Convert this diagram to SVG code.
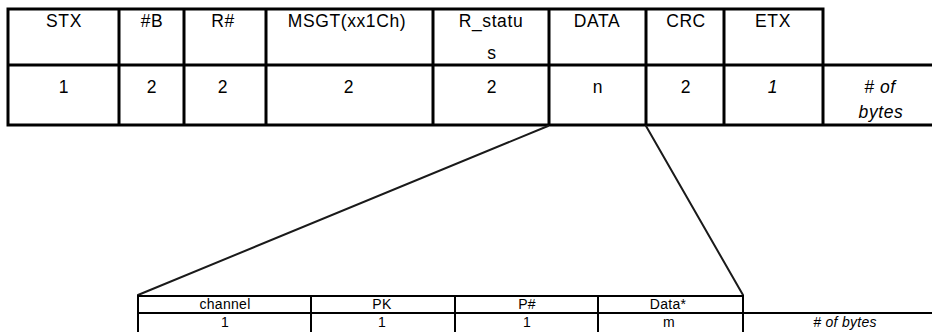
<svg xmlns="http://www.w3.org/2000/svg" width="932" height="332" viewBox="0 0 932 332">
  <style>
    .bg { fill: #ffffff; }
    .thick { stroke: #000000; stroke-width: 3; fill: none; stroke-linecap: square; }
    .thin { stroke: #000000; stroke-width: 2; fill: none; stroke-linecap: square; }
    .conn { stroke: #1a1a1a; stroke-width: 2; fill: none; stroke-linecap: round; }
    .t { font-family: "Liberation Sans", Arial, sans-serif; font-size: 17.5px; letter-spacing: 0.6px; fill: #000000; text-anchor: middle; }
    .s { font-family: "Liberation Sans", Arial, sans-serif; font-size: 14px; letter-spacing: 0.3px; fill: #000000; text-anchor: middle; }
    .i { font-style: italic; }
  </style>
  <rect class="bg" x="0" y="0" width="932" height="332"/>

  <!-- frame table -->
  <g id="frame-table">
    <path class="thick" d="M8 9 H823 M8 65 H932 M8 125 H932 M8 9 V125 M119 9 V125 M184 9 V125 M266 9 V125 M433 9 V125 M549 9 V125 M646 9 V125 M724 9 V125 M823 9 V125"/>
  </g>
  <g id="field-stx">
    <text class="t" x="64" y="27">STX</text>
    <text class="t" x="64" y="93">1</text>
  </g>
  <g id="field-b">
    <text class="t" x="152" y="27">#B</text>
    <text class="t" x="152" y="93">2</text>
  </g>
  <g id="field-r">
    <text class="t" x="223" y="27">R#</text>
    <text class="t" x="223" y="93">2</text>
  </g>
  <g id="field-msgt">
    <text class="t" x="347" y="27">MSGT(xx1Ch)</text>
    <text class="t" x="349" y="93">2</text>
  </g>
  <g id="field-rstatus">
    <text class="t" x="491" y="27">R_statu</text>
    <text class="t" x="492" y="59">s</text>
    <text class="t" x="492" y="93">2</text>
  </g>
  <g id="field-data">
    <text class="t" x="597" y="27">DATA</text>
    <text class="t" x="598" y="93">n</text>
  </g>
  <g id="field-crc">
    <text class="t" x="686" y="27">CRC</text>
    <text class="t" x="686" y="93">2</text>
  </g>
  <g id="field-etx">
    <text class="t" x="773" y="27">ETX</text>
    <text class="t i" x="773" y="93">1</text>
  </g>
  <g id="frame-bytes-label">
    <text class="t i" x="880" y="93"># of</text>
    <text class="t i" x="881" y="118">bytes</text>
  </g>

  <!-- expansion lines from DATA field -->
  <g id="connectors">
    <line class="conn" x1="548" y1="126" x2="138" y2="295"/>
    <line class="conn" x1="646" y1="126" x2="743" y2="295"/>
  </g>

  <!-- data payload table -->
  <g id="data-table">
    <path class="thin" d="M138 296 H743 M138 313 H932 M138 296 V333 M311 296 V333 M455 296 V333 M598 296 V333 M743 296 V333"/>
  </g>
  <g id="sub-channel">
    <text class="s" x="225" y="309">channel</text>
    <text class="s" x="225" y="327">1</text>
  </g>
  <g id="sub-pk">
    <text class="s" x="382" y="309">PK</text>
    <text class="s" x="382" y="327">1</text>
  </g>
  <g id="sub-pnum">
    <text class="s" x="527" y="309">P#</text>
    <text class="s" x="527" y="327">1</text>
  </g>
  <g id="sub-data">
    <text class="s" x="668" y="309">Data*</text>
    <text class="s" x="669" y="327">m</text>
  </g>
  <g id="data-bytes-label">
    <text class="s i" x="845" y="327"># of bytes</text>
  </g>
</svg>
